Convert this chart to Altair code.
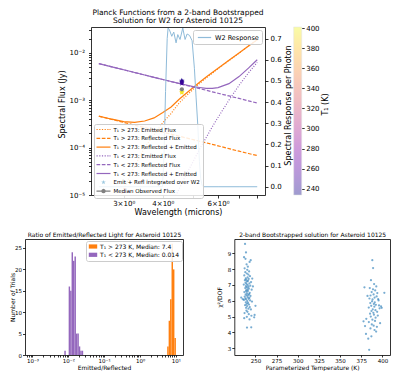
import math
import altair as alt
import pandas as pd

FONT = "DejaVu Sans"
ORANGE = "#ff7f0e"
PURPLE = "#9467bd"

wavelength = [2.5, 2.75, 3.0, 3.25, 3.5, 3.75, 4.0, 4.25, 4.5, 4.75, 5.0,
              5.25, 5.5, 5.75, 6.0, 6.5, 7.0, 7.5, 8.0]
hot_emitted = [None, 3.8e-6, 1.31e-5, 4.05e-5, 1.0e-4, 1.87e-4, 3.36e-4, 5.26e-4,
               8.6e-4, 1.24e-3, 1.70e-3, 2.28e-3, 2.95e-3, 3.7e-3, 4.6e-3, 6.85e-3,
               9.86e-3, 1.38e-2, 1.88e-2]
hot_reflected = [4.59e-4, 3.93e-4, 3.40e-4, 2.98e-4, 2.64e-4, 2.36e-4, 2.12e-4, 1.92e-4,
                 1.75e-4, 1.60e-4, 1.47e-4, 1.36e-4, 1.26e-4, 1.17e-4, 1.09e-4, 9.5e-5,
                 8.4e-5, 7.5e-5, 6.8e-5]
hot_total = [4.6e-4, 3.97e-4, 3.53e-4, 3.39e-4, 3.64e-4, 4.23e-4, 5.48e-4, 7.18e-4,
             1.035e-3, 1.40e-3, 1.85e-3, 2.42e-3, 3.08e-3, 3.82e-3, 4.71e-3, 6.95e-3,
             9.94e-3, 1.39e-2, 1.89e-2]
cold_emitted = [None, None, None, None, None, None, None, 6.2e-6, 1.31e-5, 2.69e-5,
                5.13e-5, 9.5e-5, 1.63e-4, 2.74e-4, 4.35e-4, 1.0e-3, 2.06e-3, 3.77e-3, 6.27e-3]
cold_reflected = [5.92e-3, 5.06e-3, 4.38e-3, 3.84e-3, 3.40e-3, 3.03e-3, 2.73e-3, 2.47e-3,
                  2.25e-3, 2.06e-3, 1.89e-3, 1.75e-3, 1.62e-3, 1.50e-3, 1.40e-3, 1.23e-3,
                  1.09e-3, 9.7e-4, 8.7e-4]
cold_total = [5.92e-3, 5.06e-3, 4.38e-3, 3.84e-3, 3.40e-3, 3.03e-3, 2.73e-3, 2.48e-3,
              2.26e-3, 2.09e-3, 1.94e-3, 1.85e-3, 1.78e-3, 1.77e-3, 1.84e-3, 2.23e-3,
              3.15e-3, 4.74e-3, 7.14e-3]

w2_wavelength = [2.5, 3.95, 3.99, 4.035, 4.08, 4.13, 4.157, 4.197, 4.271, 4.334, 4.408,
                 4.464, 4.539, 4.630, 4.710, 4.780, 4.868, 4.959, 5.043, 5.107, 5.171,
                 5.232, 5.28, 5.34, 5.40, 6.0, 7.0, 8.0]
w2_response = [0.0, 0.0, 0.0, 0.15, 0.45, 0.70, 0.75, 0.742, 0.711, 0.731, 0.68,
               0.719, 0.696, 0.75, 0.696, 0.722, 0.715, 0.69, 0.56, 0.42, 0.29,
               0.12, 0.04, 0.005, 0.0, 0.0, 0.0, 0.0]

star_wavelength = [4.6, 4.6, 4.6, 4.6, 4.6, 4.6, 4.6, 4.6]
star_T1 = [236, 239, 242, 245, 248, 384, 391, 398]
star_flux = [2.6e-3, 2.45e-3, 2.35e-3, 2.5e-3, 2.25e-3, 1.48e-3, 1.44e-3, 1.52e-3]

obs_wavelength = [4.6]
obs_flux = [1.7e-3]
obs_low = [1.6e-3]
obs_high = [1.8e-3]

series_names = ["T₁ > 273: Emitted Flux", "T₁ > 273: Reflected Flux",
                "T₁ > 273: Reflected + Emitted", "T₁ < 273: Emitted Flux",
                "T₁ < 273: Reflected Flux", "T₁ < 273: Reflected + Emitted",
                "Emit + Refl integrated over W2", "Median Observed Flux"]

bin_width_exp = 0.0404
cold_bin_exp = [-2.111, -2.071, -2.030, -1.990, -1.949, -1.909, -1.869, -1.828,
                -1.788, -1.747, -1.707, -1.667, -1.626]
cold_counts = [1, 0, 0, 16, 15, 24, 22, 23, 5, 5, 2, 1, 1]
hot_bin_exp = [0.758, 0.798, 0.838, 0.879, 0.919, 0.960]
hot_counts = [2, 8, 13, 26, 20, 4]
hist_groups = ["T₁ > 273 K, Median: 7.4", "T₁ < 273 K, Median: 0.014"]

T_low = [237.7, 238.8, 236.5, 238.2, 244.4, 243.1, 239.5, 241.0, 237.2, 240.3,
         242.5, 238.0, 239.8, 241.6, 236.8, 243.5, 240.7, 238.5, 242.0, 239.1,
         237.5, 241.3, 240.0, 244.8, 238.3, 242.8, 239.4, 236.2, 240.9, 243.9,
         238.7, 241.8, 239.9, 237.9, 242.2, 240.5, 245.5, 238.9, 241.1, 239.2,
         236.9, 243.2, 240.2, 242.6, 238.4, 241.5, 239.6, 244.1, 237.3, 240.8,
         242.9, 238.1, 241.9, 239.0, 236.4, 243.7, 240.4, 245.9, 238.6, 241.2,
         239.7, 242.4, 237.8, 240.1, 243.3, 233.2, 238.9, 241.7, 244.6, 239.3,
         240.6, 237.1, 242.1, 245.2, 239.8, 236.7, 243.0, 250.0, 240.0, 245.0,
         248.5, 247.0, 235.0, 246.2, 249.0]
chi_low = [9.59, 9.05, 8.75, 8.65, 8.56, 8.45, 8.30, 8.15, 8.05, 7.95,
           7.85, 7.80, 7.72, 7.65, 7.60, 7.55, 7.48, 7.42, 7.38, 7.33,
           7.30, 7.26, 7.22, 7.18, 7.14, 7.10, 7.06, 7.02, 6.98, 6.95,
           6.92, 6.88, 6.85, 6.80, 6.76, 6.72, 6.70, 6.66, 6.62, 6.58,
           6.55, 6.50, 6.46, 6.42, 6.40, 6.36, 6.33, 6.30, 6.26, 6.22,
           6.18, 6.15, 6.12, 6.08, 6.05, 6.02, 5.98, 5.95, 5.90, 5.86,
           5.80, 5.76, 5.72, 5.66, 5.60, 6.20, 5.55, 5.50, 5.45, 5.38,
           5.30, 5.22, 5.15, 5.05, 4.98, 4.90, 4.82, 5.68, 4.30, 4.32,
           4.95, 6.90, 6.10, 7.40, 5.10]
T_high = [388.1, 389.0, 383.3, 384.4, 377.7, 402.3, 386.5, 390.2, 392.8, 385.1,
          388.9, 391.5, 387.3, 394.0, 389.6, 386.0, 393.2, 390.8, 384.7, 388.4,
          395.5, 387.8, 391.0, 385.7, 389.9, 392.3, 386.8, 390.5, 383.9, 396.7,
          388.6, 391.8, 387.1, 393.8, 389.3, 385.4, 390.0, 394.6, 386.3, 392.0,
          381.0, 388.2, 391.3, 384.0, 397.3, 387.5, 389.7, 393.5, 385.9, 390.7,
          379.5, 382.4, 396.0, 380.6, 398.4, 387.0, 392.6, 378.8, 395.0, 399.2]
chi_high = [8.56, 8.06, 3.60, 2.90, 4.70, 6.50, 7.30, 7.05, 6.90, 6.80,
            6.72, 6.65, 6.55, 6.48, 6.40, 6.33, 6.27, 6.20, 6.14, 6.08,
            6.02, 5.96, 5.90, 5.85, 5.80, 5.74, 5.68, 5.62, 5.57, 5.52,
            5.46, 5.40, 5.35, 5.30, 5.24, 5.18, 5.12, 5.06, 5.00, 4.93,
            4.86, 4.80, 4.72, 4.65, 4.58, 4.50, 4.42, 4.35, 4.25, 4.15,
            4.40, 6.30, 5.70, 3.90, 5.65, 3.75, 4.05, 6.85, 6.10, 5.55]

# ---------------- layout constants (pixels inside each wide panel) ----------------
W = 365            # full width of both rows
TOP_H = 168
BOT_H = 116
P_LEFT, P_RIGHT = 66, 240          # top plot x-range inside the wide top view
H_RIGHT = 158                      # histogram x-range [0, 158]
S_LEFT = 209.3                     # scatter x-range [209.3, W]
CB_RIGHT = 276.7                   # colour-bar right edge

rows = []
for name, vals in zip(series_names[:6], [hot_emitted, hot_reflected, hot_total,
                                          cold_emitted, cold_reflected, cold_total]):
    for w, v in zip(wavelength, vals):
        if v is not None:
            rows.append({"wl": w, "flux": v, "series": name})
lines_df = pd.DataFrame(rows)

sup = {"-": "⁻", "0": "⁰", "1": "¹", "2": "²", "3": "³", "4": "⁴", "5": "⁵"}


def decade_expr(exps):
    parts = []
    for e in exps:
        v = 10.0 ** e
        lab = "10" + "".join(sup[c] for c in str(e))
        parts.append(f"(datum.value > {v*0.999} && datum.value < {v*1.001}) ? '{lab}' : ")
    return "".join(parts) + "''"


def rect_path(x0, x1, h):
    return f"M{x0:.2f},{-h:.2f}L{x1:.2f},{-h:.2f}L{x1:.2f},{h:.2f}L{x0:.2f},{h:.2f}Z"


def polygon_path(pts):
    return "M" + "L".join(f"{x:.3f},{y:.3f}" for x, y in pts) + "Z"


def star_pts(r_out, r_in):
    return [((r_out if k % 2 == 0 else r_in) * math.cos(math.radians(-90 + 36 * k)),
             (r_out if k % 2 == 0 else r_in) * math.sin(math.radians(-90 + 36 * k)))
            for k in range(10)]


star_path = polygon_path(star_pts(1.0, 0.4))
frame_axis = dict(labels=False, ticks=False, title=None, domain=True)

# ====================== TOP PANEL ======================
x_scale = alt.Scale(type="log", domain=[2.36, 8.47], range=[P_LEFT, P_RIGHT], nice=False)
y_scale = alt.Scale(type="log", domain=[1e-5, 0.035], nice=False)
flux_ticks = [k * 10.0 ** d for d in (-5, -4, -3, -2) for k in range(1, 10) if k * 10.0 ** d <= 0.035]

x_axis = alt.Axis(values=[3, 4, 5, 6, 7, 8],
                  labelExpr="datum.value == 3 ? '3×10⁰' : datum.value == 4 ? '4×10⁰' : datum.value == 6 ? '6×10⁰' : ''",
                  title="Wavelength (microns)", titleFontSize=8, labelFontSize=7,
                  tickSize=3, labelPadding=1.5, titlePadding=2, labelOverlap=False)
y_axis = alt.Axis(values=flux_ticks, labelExpr=decade_expr([-5, -4, -3, -2]),
                  title="Spectral Flux (Jy)", titleFontSize=8, labelFontSize=7,
                  tickSize=2.5, labelPadding=4, labelOverlap=False, offset=-P_LEFT,
                  titleX=-29, titleY=77, titleAngle=270, titleAlign="center",
                  titleBaseline="middle")
x_enc = alt.X("wl:Q", scale=x_scale, axis=x_axis)
y_enc = alt.Y("flux:Q", scale=y_scale, axis=y_axis)


def line_layer(name, color, dash):
    kw = dict(color=color, strokeWidth=1.2, clip=True)
    if dash:
        kw["strokeDash"] = dash
    return (alt.Chart(lines_df).transform_filter(alt.datum.series == name)
            .mark_line(**kw).encode(x=x_enc, y=y_enc))


DOT = [1, 1.6]
DASH = [3.7, 1.6]
lines = [line_layer(series_names[0], ORANGE, DOT),
         line_layer(series_names[1], ORANGE, DASH),
         line_layer(series_names[2], ORANGE, None),
         line_layer(series_names[3], PURPLE, DOT),
         line_layer(series_names[4], PURPLE, DASH),
         line_layer(series_names[5], PURPLE, None)]

solid_path = rect_path(-2.33, 2.33, 0.2)
dash_path = " ".join(rect_path(a, b, 0.2) for a, b in [(-2.33, -1.1), (-0.57, 0.66), (1.19, 2.33)])
dot_path = " ".join(rect_path(s, min(s + 0.4, 2.33), 0.2) for s in [-2.33, -1.43, -0.53, 0.37, 1.27, 2.0])
circle_path = polygon_path([(0.75 * math.cos(math.radians(a)), 0.75 * math.sin(math.radians(a)))
                            for a in range(0, 360, 30)])
median_path = solid_path + " " + circle_path
legend_star = polygon_path(star_pts(0.8, 0.32))

flux_legend = alt.Legend(title=None, orient="none", legendX=P_LEFT + 3, legendY=97,
                         symbolSize=36, symbolOffset=4, labelOffset=7, labelFontSize=5.5,
                         rowPadding=1.8, padding=2.5, fillColor="rgba(255,255,255,0.85)",
                         strokeColor="#cccccc", cornerRadius=2, symbolStrokeWidth=0,
                         labelLimit=300)
color_scale = alt.Scale(domain=series_names,
                        range=[ORANGE, ORANGE, ORANGE, PURPLE, PURPLE, PURPLE, "#9ecae1", "#808080"])
shape_scale = alt.Scale(domain=series_names,
                        range=[dot_path, dash_path, solid_path, dot_path, dash_path, solid_path,
                               legend_star, median_path])

# legend-only layer: its points sit far below the axis floor and are clipped away
leg_df = pd.DataFrame({"series": series_names, "wl": [5.0] * 8, "flux": [1e-9] * 8})
legend_layer = alt.Chart(leg_df).mark_point(filled=True, opacity=1, clip=True, size=36).encode(
    x=x_enc, y=y_enc,
    color=alt.Color("series:N", scale=color_scale, legend=flux_legend),
    shape=alt.Shape("series:N", scale=shape_scale, legend=flux_legend))

stars_df = pd.DataFrame({"wl": star_wavelength, "flux": star_flux, "T1": star_T1})
T_DOMAIN = [233.7, 401]
cbar_legend = alt.Legend(title=None, orient="none", legendX=CB_RIGHT - 8, legendY=0,
                         direction="vertical", gradientLength=TOP_H, gradientThickness=8,
                         gradientOpacity=0.4, labelExpr="''", padding=0,
                         gradientStrokeColor="#bbbbbb", gradientStrokeWidth=0.5)
stars = alt.Chart(stars_df).mark_point(shape=star_path, filled=True, size=30, opacity=1).encode(
    x=x_enc, y=y_enc,
    fill=alt.Fill("T1:Q", scale=alt.Scale(scheme="plasma", domain=T_DOMAIN), legend=cbar_legend))

obs_df = pd.DataFrame({"wl": obs_wavelength, "flux": obs_flux, "lo": obs_low, "hi": obs_high})
med_rule = alt.Chart(obs_df).mark_rule(color="grey", strokeWidth=1).encode(
    x=x_enc, y=alt.Y("lo:Q", scale=y_scale, axis=y_axis), y2="hi:Q")
med_pt = alt.Chart(obs_df).mark_point(shape="circle", filled=True, color="grey", size=18, opacity=1).encode(
    x=x_enc, y=y_enc)

inner = alt.layer(*lines, legend_layer, stars, med_rule, med_pt)

w2_df = pd.DataFrame({"wl": w2_wavelength, "resp": w2_response,
                      "name": ["W2 Response"] * len(w2_wavelength)})
w2_legend = alt.Legend(title=None, orient="none", legendX=P_LEFT + 102, legendY=3,
                       symbolType="M-1.9,0L1.9,0",
                       symbolSize=49, symbolOffset=4, labelOffset=6, symbolStrokeWidth=1.2,
                       labelFontSize=6.5, padding=3, fillColor="rgba(255,255,255,0.85)",
                       strokeColor="#cccccc", cornerRadius=2)
w2 = alt.Chart(w2_df).mark_line(strokeWidth=1, clip=True).encode(
    x=alt.X("wl:Q", scale=x_scale, axis=alt.Axis(orient="top", **frame_axis)),
    y=alt.Y("resp:Q", scale=alt.Scale(domain=[-0.039, 0.755], nice=False, zero=False),
            axis=alt.Axis(orient="right", offset=-(W - P_RIGHT),
                          values=[0, 0.1, 0.2, 0.3, 0.4, 0.5, 0.6, 0.7],
                          format=".1f", title="Spectral Response per Photon",
                          titleFontSize=8, labelFontSize=7, tickSize=3, labelPadding=2,
                          titleX=23, titleY=78, titleAngle=270, titleAlign="center",
                          titleBaseline="middle")),
    stroke=alt.Stroke("name:N", scale=alt.Scale(range=["#8fbbd9"]), legend=w2_legend))

# colour-bar ticks, labels and title (the gradient itself is the fill legend above)
cbar_axis = alt.Chart(stars_df).mark_point(opacity=0).encode(
    y=alt.Y("T1:Q", scale=alt.Scale(domain=T_DOMAIN, nice=False, zero=False),
            axis=alt.Axis(orient="right", offset=-(W - CB_RIGHT),
                          values=[240, 260, 280, 300, 320, 340, 360, 380, 400],
                          domain=False, tickSize=2.5, labelFontSize=7, labelPadding=1.5,
                          title="T₁ (K)", titleFontSize=8, titleX=23.3, titleY=77,
                          titleAngle=270, titleAlign="center", titleBaseline="middle")))

top = alt.layer(inner, w2, cbar_axis).resolve_scale(x="independent", y="independent").properties(
    width=W, height=TOP_H,
    title=alt.TitleParams(text=["Planck Functions from a 2-band Bootstrapped",
                                "Solution for W2 for Asteroid 10125"],
                          fontSize=7.5, lineHeight=8, offset=0, anchor="middle",
                          dx=(P_LEFT + P_RIGHT) / 2 - W / 2))

# ====================== BOTTOM PANELS (one wide view) ======================
hrows = []
for e, c in zip(hot_bin_exp, hot_counts):
    hrows.append({"lo": 10 ** e, "hi": 10 ** (e + bin_width_exp), "count": c, "zero": 0, "group": hist_groups[0]})
for e, c in zip(cold_bin_exp, cold_counts):
    hrows.append({"lo": 10 ** e, "hi": 10 ** (e + bin_width_exp), "count": c, "zero": 0, "group": hist_groups[1]})
hist_df = pd.DataFrame(hrows)

hx = alt.Scale(type="log", domain=[6.2e-4, 15.8], range=[0, H_RIGHT], nice=False)
hy = alt.Scale(domain=[0, 27.1], nice=False)
ratio_ticks = [k * 10.0 ** d for d in (-4, -3, -2, -1, 0, 1) for k in range(1, 10)
               if 6.2e-4 <= k * 10.0 ** d <= 15.8]
hist = alt.Chart(hist_df).mark_rect().encode(
    x=alt.X("lo:Q", scale=hx,
            axis=alt.Axis(values=ratio_ticks, labelExpr=decade_expr([-3, -2, -1, 0, 1]),
                          title="Emitted/Reflected", titleFontSize=6, labelFontSize=5.5,
                          tickSize=2, labelPadding=1, titlePadding=1, labelOverlap=False)),
    x2="hi:Q",
    y=alt.Y("count:Q", scale=hy,
            axis=alt.Axis(values=[0, 5, 10, 15, 20, 25], title="Number of Trials",
                          titleFontSize=6, labelFontSize=5.5, tickSize=2.5, labelPadding=1,
                          titleX=-13, titleY=BOT_H / 2, titleAngle=270, titleAlign="center",
                          titleBaseline="middle")),
    y2="zero:Q",
    color=alt.Color("group:N", scale=alt.Scale(domain=hist_groups, range=[ORANGE, PURPLE]),
                    legend=alt.Legend(title=None, orient="none", legendX=61, legendY=2,
                                      symbolType=rect_path(-1.4, 1.4, 0.7), symbolSize=36,
                                      symbolOffset=1.5, labelOffset=4, labelFontSize=6,
                                      rowPadding=2.3, padding=2.5,
                                      fillColor="rgba(255,255,255,0.85)",
                                      strokeColor="#cccccc", cornerRadius=2, symbolStrokeWidth=0))
)
hist_frame = alt.Chart(hist_df).mark_point(opacity=0).encode(
    x=alt.X("lo:Q", scale=hx,
            axis=alt.Axis(orient="top", labels=False, ticks=False, domain=True,
                          title="Ratio of Emitted/Reflected Light for Asteroid 10125",
                          titleFontSize=6, titlePadding=2)),
    y=alt.Y("count:Q", scale=hy, axis=alt.Axis(orient="right", offset=-(W - H_RIGHT), **frame_axis)))

scat_df = pd.DataFrame({"T": T_low + T_high, "chi": chi_low + chi_high})
sx = alt.Scale(domain=[225, 409], range=[S_LEFT, W], nice=False, zero=False)
sy = alt.Scale(domain=[2.57, 9.9], nice=False, zero=False)
scatter = alt.Chart(scat_df).mark_circle(size=5, color="#1f77b4", opacity=0.6).encode(
    x=alt.X("T:Q", scale=sx,
            axis=alt.Axis(values=[250, 275, 300, 325, 350, 375, 400],
                          title="Parameterized Temperature (K)", titleFontSize=6,
                          labelFontSize=5.5, tickSize=2, labelPadding=1, titlePadding=1)),
    y=alt.Y("chi:Q", scale=sy,
            axis=alt.Axis(orient="left", offset=-S_LEFT, values=[3, 4, 5, 6, 7, 8, 9],
                          title="χ²/DOF", titleFontSize=6, labelFontSize=5.5, tickSize=2.5,
                          labelPadding=1, titlePadding=5)))
scat_frame = alt.Chart(scat_df).mark_point(opacity=0).encode(
    x=alt.X("T:Q", scale=sx,
            axis=alt.Axis(orient="top", labels=False, ticks=False, domain=True,
                          title="2-band Bootstrapped solution for Asteroid 10125",
                          titleFontSize=6, titlePadding=2)),
    y=alt.Y("chi:Q", scale=sy, axis=alt.Axis(orient="right", **frame_axis)))

bottom = alt.layer(hist, hist_frame, scatter, scat_frame).resolve_scale(
    x="independent", y="independent").properties(width=W, height=BOT_H)

chart = alt.vconcat(top, bottom, spacing=44, bounds="flush").resolve_scale(
    color="independent", fill="independent", shape="independent", stroke="independent"
).properties(
    padding={"left": 0, "top": 0, "right": 0, "bottom": 0}
).configure_view(stroke="transparent").configure_axis(
    labelFont=FONT, titleFont=FONT, labelColor="black", titleColor="black",
    tickColor="black", domainColor="black", grid=False, titleFontWeight="normal",
    tickWidth=0.8, domainWidth=0.8, labelFlush=False
).configure_legend(labelFont=FONT, titleFont=FONT, titleFontWeight="normal",
                   labelColor="black", titleColor="black"
).configure_title(font=FONT, fontWeight="normal", color="black")

chart.save("out.html", embed_options={"renderer": "svg", "actions": False})
